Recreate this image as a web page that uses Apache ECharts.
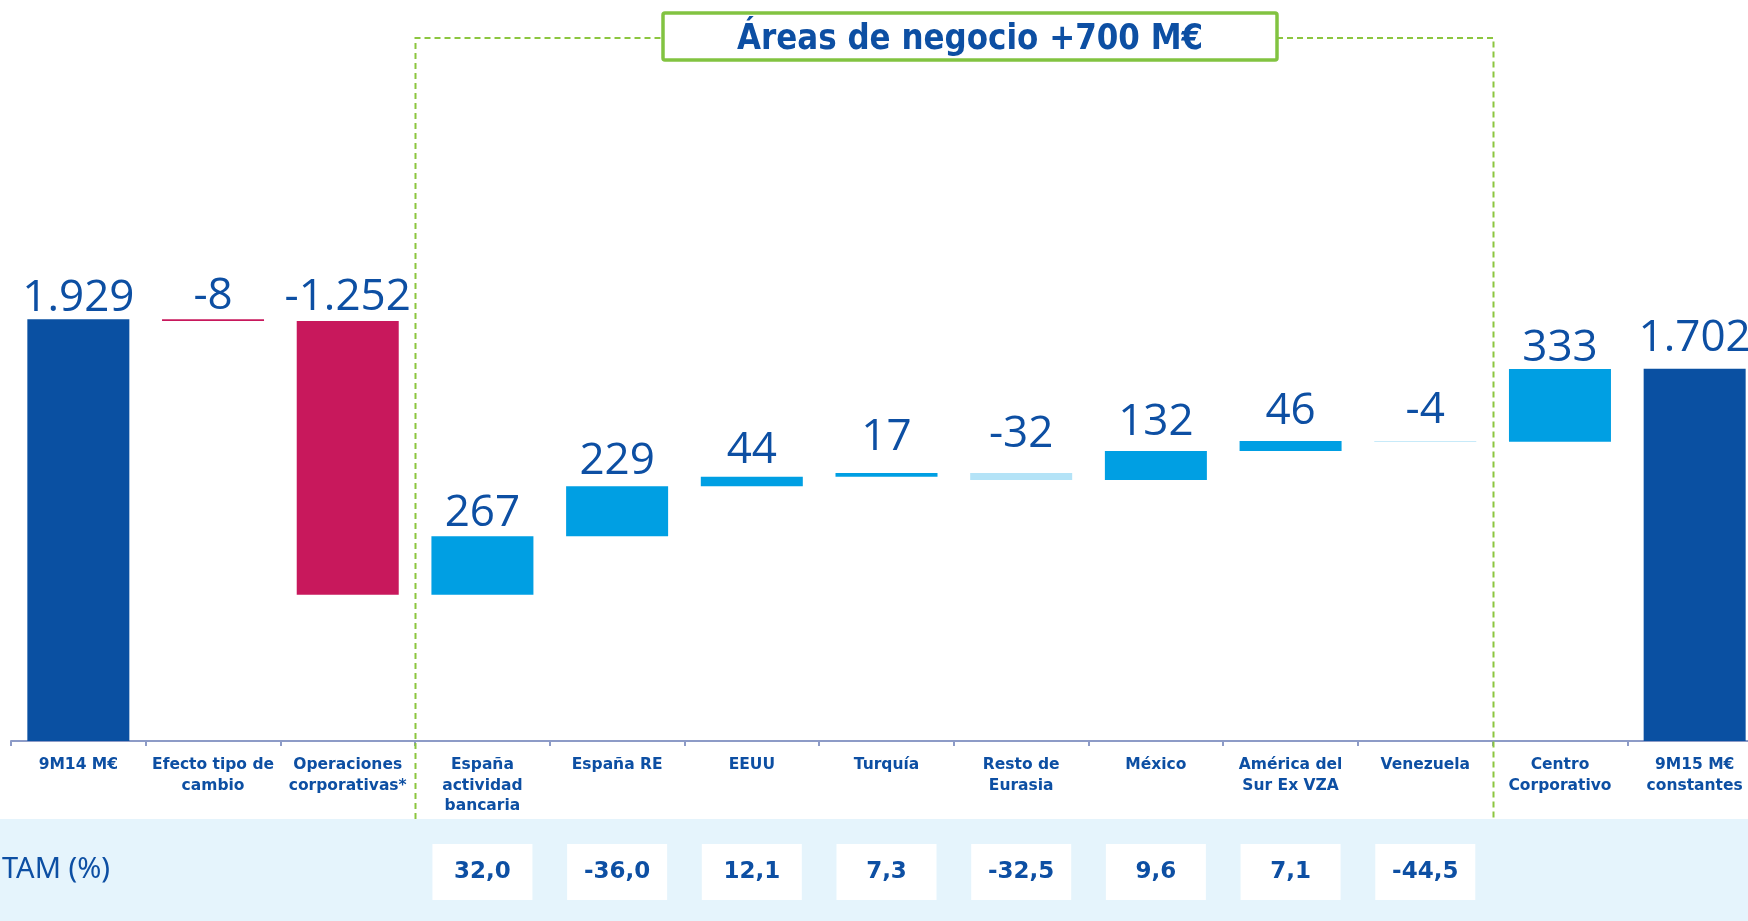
<!DOCTYPE html>
<html lang="es">
<head>
<meta charset="utf-8">
<title>Beneficio atribuido: 9M14 a 9M15</title>
<script src="https://cdn.jsdelivr.net/npm/echarts@6/dist/echarts.min.js"></script>
<style>
  html, body { margin: 0; padding: 0; background: #ffffff; }
  #chart { width: 1748px; height: 921px; }
</style>
</head>
<body>
<div id="chart"></div>
<script>
// Categories of the bridge (line breaks as printed under the axis)
const categories = [
  '9M14 M€',
  'Efecto tipo de\ncambio',
  'Operaciones\ncorporativas*',
  'España\nactividad\nbancaria',
  'España RE',
  'EEUU',
  'Turquía',
  'Resto de\nEurasia',
  'México',
  'América del\nSur Ex VZA',
  'Venezuela',
  'Centro\nCorporativo',
  '9M15 M€\nconstantes'
];

// Amounts in M€: first and last are totals, the rest are variations
const amounts = [1929, -8, -1252, 267, 229, 44, 17, -32, 132, 46, -4, 333, 1702];

// Role of each category in the bridge
const kinds = ['total', 'ajuste', 'ajuste',
  'negocio', 'negocio', 'negocio', 'negocio', 'negocio', 'negocio', 'negocio', 'negocio',
  'centro', 'total'];

// TAM (%) for the business areas
const tam = [null, null, null, 32.0, -36.0, 12.1, 7.3, -32.5, 9.6, 7.1, -44.5, null, null];

const sectionTitle = 'Áreas de negocio +700 M€';
const tamTitle = 'TAM (%)';

// Extra lift (px) of the value labels over the thin bars
const labelLift = [-2, 0, 0, 0, 2, 3, 12, 15, 6, 7, 8, -2, 7];

// Palette
const DARK_BLUE = '#0A50A2';
const MAGENTA = '#C8185C';
const BLUE = '#009FE3';
const PALE_BLUE = '#B4E3F7';
const TEXT_BLUE = '#0D4FA3';
const GREEN = '#8CC63F';
const BAND = '#E5F4FC';

function fmtThousands(v) {
  const s = String(Math.abs(v)).replace(/\B(?=(\d{3})+(?!\d))/g, '.');
  return (v < 0 ? '-' : '') + s;
}
function fmtTam(v) {
  return v.toFixed(1).replace('.', ',');
}
function colorFor(i) {
  const k = kinds[i], v = amounts[i];
  if (k === 'total') return DARK_BLUE;
  if (k === 'ajuste') return MAGENTA;
  return v < 0 ? PALE_BLUE : BLUE;
}

// Floating-bar layout: invisible base + visible segment
const baseData = [];
const segData = [];
let running = 0;
amounts.forEach((v, i) => {
  const item = {
    itemStyle: { color: colorFor(i) },
    label: { offset: [0, -labelLift[i]] }
  };
  if (kinds[i] === 'total') {
    baseData.push(0);
    item.value = v;
    running = v;
  } else {
    baseData.push(v >= 0 ? running : running + v);
    item.value = Math.abs(v);
    running += v;
  }
  segData.push(item);
});

const tamData = tam.map(v => (v === null ? null : { value: 1, label: { formatter: fmtTam(v) } }));

const chart = echarts.init(document.getElementById('chart'), null, { renderer: 'canvas' });

// The last column runs slightly past the right edge of the page
const GRID_LEFT = 11, GRID_WIDTH = 1751;

chart.setOption({
  animation: false,
  backgroundColor: '#ffffff',
  grid: [
    { left: GRID_LEFT, width: GRID_WIDTH, top: 85, bottom: 180, outerBoundsMode: 'none', containLabel: false },
    { left: GRID_LEFT, width: GRID_WIDTH, top: 844, height: 56, outerBoundsMode: 'none', containLabel: false }
  ],
  xAxis: [
    {
      type: 'category',
      gridIndex: 0,
      data: categories,
      boundaryGap: true,
      axisLine: { show: true, lineStyle: { color: '#8D9BC7', width: 2 } },
      axisTick: { show: true, alignWithLabel: false, length: 5, lineStyle: { color: '#8D9BC7', width: 2 } },
      axisLabel: {
        interval: 0,
        margin: 14,
        color: TEXT_BLUE,
        fontFamily: 'DejaVu Sans',
        fontWeight: 'bold',
        fontSize: 15.5,
        lineHeight: 20.5
      },
      splitLine: { show: false }
    },
    {
      type: 'category',
      gridIndex: 1,
      data: categories,
      show: false
    }
  ],
  yAxis: [
    { type: 'value', gridIndex: 0, min: 0, max: 3000, show: false, splitLine: { show: false } },
    { type: 'value', gridIndex: 1, min: 0, max: 1, show: false, splitLine: { show: false } }
  ],
  series: [
    {
      name: 'base',
      type: 'bar',
      stack: 'puente',
      xAxisIndex: 0, yAxisIndex: 0,
      data: baseData,
      barWidth: 102,
      itemStyle: { color: 'rgba(0,0,0,0)' },
      silent: true
    },
    {
      name: 'importe',
      type: 'bar',
      stack: 'puente',
      xAxisIndex: 0, yAxisIndex: 0,
      data: segData,
      barWidth: 102,
      label: {
        show: true,
        position: 'top',
        distance: 1,
        color: TEXT_BLUE,
        fontFamily: 'Open Sans',
        fontSize: 44,
        formatter: p => fmtThousands(amounts[p.dataIndex])
      }
    },
    {
      name: 'TAM',
      type: 'bar',
      xAxisIndex: 1, yAxisIndex: 1,
      data: tamData,
      barWidth: 100,
      itemStyle: { color: '#ffffff' },
      label: {
        show: true,
        position: 'inside',
        color: TEXT_BLUE,
        fontFamily: 'DejaVu Sans',
        fontWeight: 'bold',
        fontSize: 23
      }
    }
  ]
});

// Bracket around the business areas, built from the category axis
const c3 = chart.convertToPixel({ xAxisIndex: 0 }, 3);
const c4 = chart.convertToPixel({ xAxisIndex: 0 }, 4);
const c10 = chart.convertToPixel({ xAxisIndex: 0 }, 10);
const band = c4 - c3;
const xL = Math.round(c3 - band / 2) + 0.5;
const xR = Math.round(c10 + band / 2) + 0.5;
const yTop = 38, yBottom = 819;
const boxL = 663, boxR = 1277, boxT = 13, boxB = 60;
const dash = { stroke: GREEN, lineWidth: 2, lineDash: [6, 4], fill: null };

chart.setOption({
  graphic: [
    {
      type: 'rect', z: -10,
      shape: { x: 0, y: yBottom, width: 1748, height: 921 - yBottom },
      style: { fill: BAND }, silent: true
    },
    {
      type: 'text', z: 5,
      x: 2, y: 870,
      style: {
        text: tamTitle, fill: TEXT_BLUE, fontFamily: 'Noto Sans', fontSize: 29,
        verticalAlign: 'middle', align: 'left'
      }
    },
    {
      type: 'polyline', z: 5,
      shape: { points: [[xL, yBottom], [xL, yTop], [boxL, yTop]] },
      style: dash, silent: true
    },
    {
      type: 'polyline', z: 5,
      shape: { points: [[boxR, yTop], [xR, yTop], [xR, yBottom]] },
      style: dash, silent: true
    },
    {
      type: 'rect', z: 6,
      shape: { x: boxL, y: boxT, width: boxR - boxL, height: boxB - boxT, r: 2 },
      style: { fill: '#ffffff', stroke: '#82C341', lineWidth: 3.5 }
    },
    {
      type: 'text', z: 7,
      x: (boxL + boxR) / 2, y: (boxT + boxB) / 2 + 3,
      scaleX: 0.886,
      style: {
        text: sectionTitle, fill: TEXT_BLUE, fontFamily: 'DejaVu Sans', fontWeight: 'bold',
        fontSize: 35, align: 'center', verticalAlign: 'middle'
      }
    }
  ]
});
</script>
</body>
</html>
